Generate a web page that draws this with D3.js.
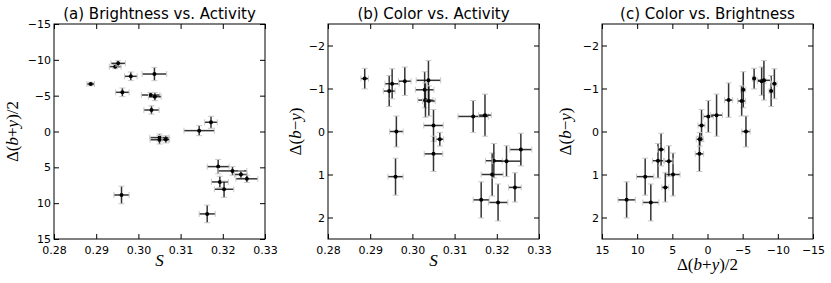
<!DOCTYPE html>
<html>
<head>
<meta charset="utf-8">
<script src="https://cdn.jsdelivr.net/npm/d3@7"></script>
<style>
  body { margin: 0; background: #fff; }
  text { font-family: "DejaVu Sans", sans-serif; }
  .mathlab { font-family: "Liberation Serif", "DejaVu Serif", serif; font-size: 17px; }
</style>
</head>
<body>
<svg id="fig" width="831" height="283"></svg>
<script>
"use strict";

// per-star values
const activity    = [0.2887, 0.2945, 0.2952, 0.2962, 0.2960, 0.2982, 0.3029, 0.3031, 0.3038, 0.3039, 0.3050,
                     0.3050, 0.3065, 0.3144, 0.3172, 0.3189, 0.3193, 0.3203, 0.3223, 0.3243, 0.3257, 0.3163];
const activityErr = [0.0009, 0.0014, 0.0017, 0.0016, 0.0018, 0.0015, 0.0022, 0.0018, 0.0029, 0.0015, 0.0023,
                     0.0022, 0.0009, 0.0036, 0.0015, 0.0026, 0.0020, 0.0023, 0.0034, 0.0015, 0.0026, 0.0019];
const brightness    = [-6.63, -9.05, -9.51, -5.47, 8.86, -7.70, -5.09, -3.00, -8.02, -4.86, 0.85,
                       1.15, 1.10, -0.12, -1.29, 4.90, 7.04, 8.06, 5.50, 6.00, 6.60, 11.50];
const brightnessErr = [0.25, 0.30, 0.37, 0.60, 1.23, 0.60, 0.35, 0.58, 0.93, 0.56, 0.50,
                       0.60, 0.50, 0.70, 0.84, 1.00, 0.80, 1.14, 0.60, 0.50, 0.50, 1.23];
const colorIdx    = [-1.23, -0.94, -1.11, 0.00, 1.05, -1.17, -0.97, -0.73, -1.19, -0.71, -0.14,
                     0.52, 0.18, -0.35, -0.38, 1.00, 0.68, 1.65, 0.69, 1.30, 0.42, 1.59];
const colorErr    = [0.24, 0.36, 0.35, 0.36, 0.43, 0.33, 0.42, 0.40, 0.46, 0.35, 0.37,
                     0.41, 0.16, 0.37, 0.49, 0.50, 0.40, 0.43, 0.36, 0.34, 0.38, 0.42];

const titles = ["(a) Brightness vs. Activity", "(b) Color vs. Activity", "(c) Color vs. Brightness"];
const sTicks = [0.28, 0.29, 0.30, 0.31, 0.32, 0.33];
const magTicks = [-15, -10, -5, 0, 5, 10, 15];
const colTicks = [-2, -1, 0, 1, 2];

const stars = activity.map((s, i) => ({
    s: s, sErr: activityErr[i],
    mag: brightness[i], magErr: brightnessErr[i],
    col: colorIdx[i], colErr: colorErr[i]
}));

const panelTop = 24, panelH = 215, panelW = 211;
const panels = [
    {left: 54,  title: titles[0], xKey: "s",   yKey: "mag", xDom: [0.28, 0.33], yDom: [-15, 15],
     xTicks: sTicks, yTicks: magTicks, xFmt: d3.format(".2f"), xLab: "S", yLab: "Δ(b+y)/2", yLabX: 13, xLabY: 266},
    {left: 328, title: titles[1], xKey: "s",   yKey: "col", xDom: [0.28, 0.33], yDom: [-2.5, 2.5],
     xTicks: sTicks, yTicks: colTicks, xFmt: d3.format(".2f"), xLab: "S", yLab: "Δ(b−y)", yLabX: 296, xLabY: 266},
    {left: 602, title: titles[2], xKey: "mag", yKey: "col", xDom: [15, -15], yDom: [-2.5, 2.5],
     xTicks: magTicks, yTicks: colTicks, xFmt: d3.format("d"), xLab: "Δ(b+y)/2", yLab: "Δ(b−y)", yLabX: 566, xLabY: 270}
];

const svg = d3.select("#fig");
const tickLen = 5, capHalf = 3;

// math-ish label: italic letters, upright symbols
function mathLabel(sel, str) {
    for (const ch of str) {
        sel.append("tspan")
            .attr("font-style", /[a-zA-Z]/.test(ch) ? "italic" : "normal")
            .text(ch);
    }
}

panels.forEach(p => {
    const x = d3.scaleLinear().domain(p.xDom).range([p.left, p.left + panelW]);
    const y = d3.scaleLinear().domain(p.yDom).range([panelTop, panelTop + panelH]);
    const g = svg.append("g");

    // ticks pointing inward on all four sides
    const axes = [
        {ax: d3.axisBottom(x).tickValues(p.xTicks).tickFormat(p.xFmt).tickPadding(7), t: `translate(0,${panelTop + panelH})`},
        {ax: d3.axisTop(x).tickValues(p.xTicks).tickFormat(""), t: `translate(0,${panelTop})`},
        {ax: d3.axisLeft(y).tickValues(p.yTicks).tickFormat(d3.format("d")).tickPadding(3), t: `translate(${p.left},0)`},
        {ax: d3.axisRight(y).tickValues(p.yTicks).tickFormat(""), t: `translate(${p.left + panelW},0)`}
    ];
    axes.forEach(a => {
        const ag = g.append("g").attr("transform", a.t)
            .call(a.ax.tickSizeInner(-tickLen).tickSizeOuter(0));
        ag.select(".domain").remove();
        ag.selectAll("line").attr("stroke", "#000");
        ag.selectAll("text").attr("font-size", 11).attr("font-family", "DejaVu Sans").attr("fill", "#000");
    });

    g.append("rect")
        .attr("x", p.left).attr("y", panelTop)
        .attr("width", panelW).attr("height", panelH)
        .attr("fill", "none").attr("stroke", "#000").attr("stroke-width", 1);

    // error bars
    const eb = g.append("g").selectAll("g").data(stars).join("g");
    eb.append("line")
        .attr("x1", d => x(d[p.xKey] - d[p.xKey + "Err"])).attr("x2", d => x(d[p.xKey] + d[p.xKey + "Err"]))
        .attr("y1", d => y(d[p.yKey])).attr("y2", d => y(d[p.yKey]))
        .attr("stroke", "#111").attr("stroke-opacity", 0.85).attr("stroke-width", 1.5);
    eb.append("line")
        .attr("x1", d => x(d[p.xKey])).attr("x2", d => x(d[p.xKey]))
        .attr("y1", d => y(d[p.yKey] - d[p.yKey + "Err"])).attr("y2", d => y(d[p.yKey] + d[p.yKey + "Err"]))
        .attr("stroke", "#111").attr("stroke-opacity", 0.85).attr("stroke-width", 1.5);
    // caps in light grey
    [-1, 1].forEach(sgn => {
        eb.append("line")
            .attr("x1", d => x(d[p.xKey] + sgn * d[p.xKey + "Err"])).attr("x2", d => x(d[p.xKey] + sgn * d[p.xKey + "Err"]))
            .attr("y1", d => y(d[p.yKey]) - capHalf).attr("y2", d => y(d[p.yKey]) + capHalf)
            .attr("stroke", "#c8c8c8").attr("stroke-width", 1);
        eb.append("line")
            .attr("x1", d => x(d[p.xKey]) - capHalf).attr("x2", d => x(d[p.xKey]) + capHalf)
            .attr("y1", d => y(d[p.yKey] + sgn * d[p.yKey + "Err"])).attr("y2", d => y(d[p.yKey] + sgn * d[p.yKey + "Err"]))
            .attr("stroke", "#c8c8c8").attr("stroke-width", 1);
    });
    eb.append("circle")
        .attr("cx", d => x(d[p.xKey])).attr("cy", d => y(d[p.yKey]))
        .attr("r", 2).attr("fill", "#000");

    // title
    g.append("text")
        .attr("x", p.left + panelW / 2).attr("y", 19)
        .attr("text-anchor", "middle").attr("font-size", 15)
        .text(p.title);

    // axis labels
    const xl = g.append("text").attr("class", "mathlab")
        .attr("x", p.left + panelW / 2).attr("y", p.xLabY)
        .attr("text-anchor", "middle");
    mathLabel(xl, p.xLab);
    const yl = g.append("text").attr("class", "mathlab")
        .attr("transform", `translate(${p.yLabX + 5},${panelTop + panelH / 2}) rotate(-90)`)
        .attr("text-anchor", "middle");
    mathLabel(yl, p.yLab);
});
</script>
</body>
</html>
